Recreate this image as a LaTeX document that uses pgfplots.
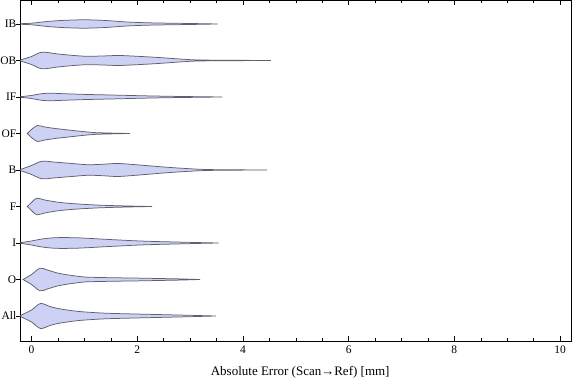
\documentclass[border=0pt]{standalone}
\usepackage{pgfplots}
\pgfplotsset{compat=1.18}
\usepackage{pgfplotstable}
\usepgfplotslibrary{fillbetween}
\usepackage{fontspec}
\setmainfont{Liberation Serif}
\definecolor{vfill}{RGB}{205,210,244}
\definecolor{vedge}{RGB}{95,95,110}

% half-widths w in pixels (1 unit on y = 36.5 px)
\pgfplotstableread{
x w
-0.21 0.3
0.0 0.8
0.3 2.5
0.6 3.6
1.0 4.2
1.4 3.5
1.8 2.0
2.2 1.2
2.6 0.8
3.0 0.5
3.52 0
}\IBdata
\pgfplotstableread{
x w
-0.21 0.5
0.0 4.0
0.2 8.3
0.5 6.5
0.8 5.0
1.05 4.2
1.35 4.5
1.65 5.0
2.0 4.2
2.4 3.0
2.8 1.5
3.1 0.6
3.5 0.3
4.53 0
}\OBdata
\pgfplotstableread{
x w
-0.21 0.3
0.0 1.5
0.15 3.0
0.33 3.8
0.6 3.3
1.0 2.6
1.4 2.1
1.8 1.6
2.2 1.1
2.6 0.7
3.0 0.4
3.61 0
}\IFdata
\pgfplotstableread{
x w
-0.08 0
0.0 4.0
0.11 8.0
0.25 6.5
0.45 5.0
0.7 3.5
0.96 2.0
1.2 0.9
1.5 0.4
1.86 0
}\OFdata
\pgfplotstableread{
x w
-0.21 0.5
0.0 4.5
0.2 8.8
0.45 7.8
0.7 6.8
1.05 5.3
1.3 5.6
1.62 6.5
1.9 5.6
2.2 4.3
2.55 2.8
2.95 1.4
3.3 0.5
3.8 0.2
4.46 0
}\Bdata
\pgfplotstableread{
x w
-0.08 0
0.0 4.0
0.1 8.3
0.25 6.5
0.5 4.3
0.75 3.0
1.0 2.1
1.3 1.3
1.6 0.8
1.9 0.4
2.28 0
}\Fdata
\pgfplotstableread{
x w
-0.21 0.3
0.0 2.0
0.2 4.0
0.45 5.3
0.8 5.3
1.1 4.6
1.4 3.7
1.7 2.9
2.0 2.1
2.4 1.4
2.8 0.9
3.1 0.5
3.54 0
}\Idata
\pgfplotstableread{
x w
-0.16 0
0.0 5.0
0.16 11.3
0.3 9.5
0.49 6.5
0.7 4.5
1.0 2.5
1.3 2.0
1.6 1.7
2.0 1.4
2.4 1.0
2.8 0.6
3.19 0
}\Odata
\pgfplotstableread{
x w
-0.21 0.5
0.0 6.0
0.17 12.5
0.35 9.5
0.5 7.5
0.7 5.8
0.9 4.5
1.13 3.6
1.4 2.8
1.8 2.2
2.2 1.7
2.6 1.2
3.0 0.7
3.49 0
}\Alldata

\newcommand{\violin}[2]{%
  \addplot[name path=u#1, draw=none, smooth, tension=0.5, forget plot]
    table[x=x, y expr={#1+\thisrow{w}/36.5}] {#2};
  \addplot[name path=l#1, draw=none, smooth, tension=0.5, forget plot]
    table[x=x, y expr={#1-\thisrow{w}/36.5}] {#2};
  \addplot[fill=vfill, draw=vedge, line width=0.75bp, forget plot]
    fill between[of=u#1 and l#1];
}

\begin{document}
\begin{tikzpicture}
\begin{axis}[
  scale only axis,
  width=551bp, height=340.3bp,
  xmin=-0.204, xmax=10.22,
  ymin=0.315, ymax=9.638,
  xtick={0,2,4,6,8,10},
  minor x tick num=3,
  ytick={1,2,3,4,5,6,7,8,9},
  yticklabels={All,O,I,F,B,OF,IF,OB,IB},
  xtick align=inside,
  ytick align=outside,
  xtick pos=both,
  ytick pos=left,
  major tick length=4.5bp,
  minor tick length=2.5bp,
  tick style={black, line width=0.5pt},
  axis line style={black, line width=0.6pt},
  /pgf/number format/assume math mode=true,
  tick label style={font=\fontsize{11.5bp}{13bp}\selectfont},
  xticklabel style={yshift=-1bp},
  yticklabel style={inner xsep=0pt, xshift=0.3bp},
  xlabel={Absolute Error (Scan→Ref) [mm]},
  xlabel style={font=\fontsize{13bp}{15bp}\selectfont, yshift=-6bp, xshift=4bp},
  clip=true,
]
\violin{9}{\IBdata}
\violin{8}{\OBdata}
\violin{7}{\IFdata}
\violin{6}{\OFdata}
\violin{5}{\Bdata}
\violin{4}{\Fdata}
\violin{3}{\Idata}
\violin{2}{\Odata}
\violin{1}{\Alldata}
\end{axis}
\pgfresetboundingbox
\path[use as bounding box] ([xshift=-20.7bp,yshift=-40bp]current axis.south west) rectangle ([xshift=4.3bp,yshift=0.7bp]current axis.north east);
\end{tikzpicture}
\end{document}
